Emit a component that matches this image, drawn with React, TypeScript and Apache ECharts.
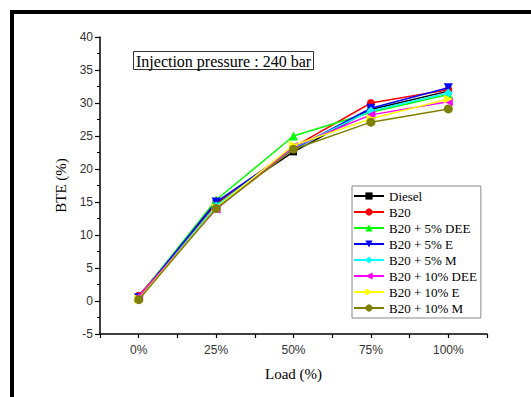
import React, { useEffect, useRef } from "react";
import * as echarts from "echarts";

const loads = ["0%", "25%", "50%", "75%", "100%"];
const seriesNames = [
  "Diesel",
  "B20",
  "B20 + 5% DEE",
  "B20 + 5% E",
  "B20 + 5% M",
  "B20 + 10% DEE",
  "B20 + 10% E",
  "B20 + 10% M",
];
const diesel = [0.5, 14.8, 22.6, 29.0, 31.8];
const b20 = [0.8, 14.6, 23.3, 30.0, 32.0];
const b20Dee5 = [0.6, 15.3, 25.0, 28.6, 31.3];
const b20E5 = [0.5, 15.0, 23.0, 29.2, 32.3];
const b20M5 = [0.4, 14.4, 23.2, 28.8, 31.5];
const b20Dee10 = [0.7, 13.9, 23.4, 28.2, 30.2];
const b20E10 = [0.3, 14.1, 23.6, 27.6, 30.6];
const b20M10 = [0.2, 14.0, 23.0, 27.1, 29.1];
const yTicks = [-5, 0, 5, 10, 15, 20, 25, 30, 35, 40];

const allValues = [diesel, b20, b20Dee5, b20E5, b20M5, b20Dee10, b20E10, b20M10];
const colors = ["#000000", "#ff0000", "#00ff00", "#0000ff", "#00ffff", "#ff00ff", "#ffff00", "#808000"];
const symbols = ["rect", "circle", "triangle", "triangle", "diamond", "triangle", "triangle", "circle"];
const rotations = [0, 0, 0, 180, 0, 90, -90, 0];
const sizes = [7, 8, 9, 9, 9, 9, 9, 9];

export default function App() {
  const ref = useRef<HTMLDivElement>(null);
  useEffect(() => {
    if (!ref.current) return;
    const chart = echarts.init(ref.current, undefined, { renderer: "svg" });
    const serif = "'Liberation Serif', 'Times New Roman', serif";
    const sans = "'Liberation Sans', Arial, sans-serif";
    chart.setOption({
      animation: false,
      backgroundColor: "#ffffff",
      graphic: [
        { type: "rect", shape: { x: 10, y: 10, width: 521, height: 4 }, style: { fill: "#000" } },
        { type: "rect", shape: { x: 10, y: 10, width: 4, height: 387 }, style: { fill: "#000" } },
      ],
      title: {
        text: "Injection pressure : 240 bar",
        left: 133,
        top: 51,
        padding: [2, 3, 1, 3],
        borderColor: "#333",
        borderWidth: 1,
        textStyle: { fontFamily: serif, fontSize: 16, fontWeight: "normal", color: "#000" },
      },
      legend: {
        orient: "vertical",
        left: 352,
        top: 186,
        padding: [3, 4, 3, 1],
        borderColor: "#888",
        borderWidth: 1,
        itemWidth: 30,
        itemHeight: 9,
        itemGap: 2,
        textStyle: { fontFamily: serif, fontSize: 13, fontWeight: "normal", color: "#000", lineHeight: 14 },
        data: seriesNames,
      },
      grid: { left: 100, right: 44, top: 37, bottom: 63, containLabel: false },
      xAxis: {
        type: "value",
        min: -0.5,
        max: 4.5,
        interval: 0.5,
        name: "Load (%)",
        nameLocation: "middle",
        nameGap: 32,
        nameTextStyle: { fontFamily: serif, fontSize: 15, color: "#000" },
        axisLine: { show: true, onZero: false, lineStyle: { color: "#000", width: 1.5 } },
        axisTick: { show: true, length: 4, lineStyle: { color: "#000", width: 1.2 } },
        splitLine: { show: false },
        axisLabel: {
          showMinLabel: true,
          showMaxLabel: true,
          margin: 10,
          fontFamily: sans,
          fontSize: 12,
          color: "#333",
          formatter: (v: number) => (Number.isInteger(v) ? loads[v] : ""),
        },
      },
      yAxis: {
        type: "value",
        min: yTicks[0],
        max: yTicks[yTicks.length - 1],
        interval: 5,
        name: "BTE (%)",
        nameLocation: "middle",
        nameGap: 31,
        nameRotate: 90,
        nameTextStyle: { fontFamily: serif, fontSize: 15, color: "#000" },
        axisLine: { show: true, onZero: false, lineStyle: { color: "#000", width: 1.5 } },
        axisTick: { show: true, length: 5, lineStyle: { color: "#000", width: 1.2 } },
        minorTick: { show: true, splitNumber: 2, length: 3, lineStyle: { color: "#000", width: 1 } },
        splitLine: { show: false },
        axisLabel: { margin: 7, fontFamily: sans, fontSize: 12, color: "#333" },
      },
      series: seriesNames.map((name, i) => ({
        name,
        type: "line",
        data: allValues[i].map((v, j) => [j, v]),
        symbol: symbols[i],
        symbolSize: sizes[i],
        symbolRotate: rotations[i],
        showAllSymbol: true,
        color: colors[i],
        lineStyle: { color: colors[i], width: 1.5 },
        itemStyle: { color: colors[i] },
        z: 2 + i,
      })),
    });
    return () => chart.dispose();
  }, []);
  return <div ref={ref} style={{ position: "absolute", left: 0, top: 0, width: 531, height: 397 }} />;
}
